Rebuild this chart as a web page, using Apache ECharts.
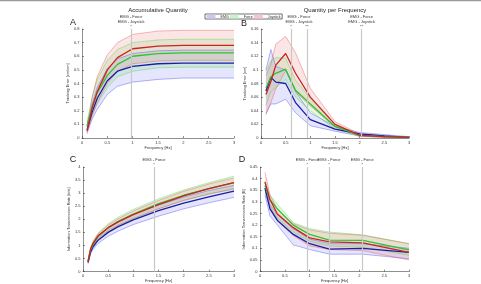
<!DOCTYPE html>
<html>
<head>
<meta charset="utf-8">
<script src="https://cdn.jsdelivr.net/npm/echarts@6/dist/echarts.min.js"></script>
<style>
    html,body{margin:0;padding:0;background:#fff;}
    #chart{width:481px;height:284px;}
</style>
</head>
<body>
<div id="chart"></div>
<script>
    // frequencies [Hz]
    var freqA = [0.1, 0.2, 0.3, 0.5, 0.7, 1.0, 1.5, 2.0, 2.5, 3.0];
    var freqB = [0.1, 0.2, 0.3, 0.5, 0.7, 1.0, 1.5, 2.0, 2.5, 3.0];
    var freqC = [0.1, 0.15, 0.2, 0.3, 0.5, 0.7, 1.0, 1.5, 2.0, 2.5, 3.0];
    var freqD = [0.1, 0.2, 0.35, 0.67, 1.0, 1.4, 2.07, 3.0];

    // A - accumulative tracking error
    var aEmgMean = [0.06, 0.19, 0.29, 0.42, 0.49, 0.525, 0.545, 0.55, 0.55, 0.55];
    var aEmgUp   = [0.09, 0.25, 0.37, 0.51, 0.58, 0.62, 0.64, 0.645, 0.645, 0.645];
    var aEmgLo   = [0.04, 0.14, 0.21, 0.32, 0.38, 0.41, 0.43, 0.44, 0.44, 0.44];
    var aForceMean = [0.09, 0.23, 0.33, 0.46, 0.54, 0.60, 0.62, 0.625, 0.625, 0.625];
    var aForceUp   = [0.12, 0.30, 0.43, 0.57, 0.65, 0.70, 0.72, 0.725, 0.725, 0.725];
    var aForceLo   = [0.07, 0.17, 0.25, 0.37, 0.45, 0.49, 0.515, 0.52, 0.52, 0.52];
    var aJoyMean = [0.05, 0.22, 0.34, 0.50, 0.59, 0.655, 0.675, 0.68, 0.68, 0.68];
    var aJoyUp   = [0.08, 0.30, 0.45, 0.61, 0.70, 0.76, 0.785, 0.79, 0.79, 0.79];
    var aJoyLo   = [0.03, 0.16, 0.26, 0.40, 0.49, 0.545, 0.565, 0.57, 0.57, 0.57];

    // B - tracking error per frequency
    var bEmgMean = [0.069, 0.089, 0.082, 0.080, 0.052, 0.027, 0.013, 0.006, 0.003, 0.001];
    var bEmgUp   = [0.100, 0.130, 0.105, 0.100, 0.068, 0.037, 0.017, 0.008, 0.005, 0.002];
    var bEmgLo   = [0.036, 0.050, 0.050, 0.057, 0.037, 0.018, 0.010, 0.003, 0.001, 0.000];
    var bForceMean = [0.073, 0.090, 0.095, 0.101, 0.070, 0.050, 0.017, 0.004, 0.002, 0.001];
    var bForceUp   = [0.098, 0.113, 0.118, 0.117, 0.085, 0.058, 0.020, 0.005, 0.003, 0.001];
    var bForceLo   = [0.048, 0.068, 0.074, 0.086, 0.060, 0.040, 0.013, 0.003, 0.001, 0.000];
    var bJoyMean = [0.064, 0.083, 0.107, 0.124, 0.095, 0.060, 0.020, 0.004, 0.002, 0.001];
    var bJoyUp   = [0.092, 0.108, 0.138, 0.149, 0.125, 0.073, 0.024, 0.006, 0.003, 0.001];
    var bJoyLo   = [0.034, 0.052, 0.072, 0.099, 0.068, 0.047, 0.016, 0.002, 0.001, 0.000];

    // C - accumulative information transmission rate
    var cEmgMean = [0.35, 0.75, 0.95, 1.20, 1.50, 1.72, 1.98, 2.33, 2.62, 2.86, 3.08];
    var cEmgUp   = [0.40, 0.83, 1.05, 1.33, 1.68, 1.92, 2.20, 2.55, 2.85, 3.10, 3.30];
    var cEmgLo   = [0.30, 0.67, 0.85, 1.08, 1.35, 1.55, 1.80, 2.12, 2.40, 2.63, 2.84];
    var cForceMean = [0.40, 0.83, 1.05, 1.35, 1.68, 1.92, 2.20, 2.60, 2.92, 3.17, 3.40];
    var cForceUp   = [0.45, 0.92, 1.15, 1.47, 1.83, 2.08, 2.38, 2.78, 3.12, 3.40, 3.65];
    var cForceLo   = [0.35, 0.75, 0.95, 1.22, 1.53, 1.76, 2.02, 2.40, 2.72, 2.96, 3.18];
    var cJoyMean = [0.38, 0.85, 1.08, 1.37, 1.68, 1.90, 2.18, 2.56, 2.90, 3.17, 3.40];
    var cJoyUp   = [0.42, 0.92, 1.15, 1.45, 1.78, 2.02, 2.32, 2.72, 3.07, 3.35, 3.58];
    var cJoyLo   = [0.34, 0.79, 1.00, 1.28, 1.57, 1.78, 2.03, 2.40, 2.72, 2.97, 3.15];

    // D - information transmission rate per frequency
    var dEmgMean = [0.36, 0.27, 0.22, 0.16, 0.12, 0.097, 0.10, 0.083];
    var dEmgUp   = [0.385, 0.29, 0.245, 0.185, 0.14, 0.12, 0.12, 0.10];
    var dEmgLo   = [0.33, 0.24, 0.20, 0.115, 0.095, 0.075, 0.075, 0.055];
    var dForceMean = [0.37, 0.31, 0.27, 0.20, 0.16, 0.135, 0.134, 0.093];
    var dForceUp   = [0.39, 0.33, 0.29, 0.21, 0.185, 0.17, 0.158, 0.12];
    var dForceLo   = [0.34, 0.28, 0.23, 0.17, 0.13, 0.11, 0.105, 0.07];
    var dJoyMean = [0.385, 0.31, 0.248, 0.189, 0.145, 0.128, 0.124, 0.083];
    var dJoyUp   = [0.427, 0.33, 0.268, 0.206, 0.179, 0.165, 0.156, 0.12];
    var dJoyLo   = [0.35, 0.28, 0.22, 0.155, 0.11, 0.095, 0.09, 0.05];

    // significance markers
    var sigA = [[0.97, '*']];
    var sigB = [[0.61, '*'], [0.93, '**'], [2.04, '**']];
    var sigC = [[1.41, '*']];
    var sigD = [[0.95, '*'], [1.39, '*'], [2.06, '*']];
    var noteA = [[0.97, 'EMG - Force\nEMG - Joystick']];
    var noteB = [[0.77, 'EMG - Force\nEMG - Joystick'], [2.04, 'EMG - Force\nEMG - Joystick']];
    var noteC = [[1.41, 'EMG - Force']];
    var noteD = [[0.95, 'EMG - Force'], [1.39, 'EMG - Force'], [2.06, 'EMG - Force']];

    var yMax = [0.8, 0.16, 4, 0.45];
    var yStep = [0.1, 0.02, 0.5, 0.05];
    var yNames = ['Tracking Error [cm/cm]', 'Tracking Error [cm]', 'Information Transmission Rate [bits]', 'Information Transmission Rate [B]'];

    var groups = {
        EMG:      {mean: '#1c1ca6', edge: 'rgba(80,80,230,0.7)',  fill: 'rgba(110,110,245,0.18)', legend: '#c9c9f4'},
        Force:    {mean: '#2fc42f', edge: 'rgba(80,215,80,0.7)',  fill: 'rgba(90,225,90,0.16)',  legend: '#c8f2c8'},
        Joystick: {mean: '#cc2222', edge: 'rgba(225,90,90,0.7)',  fill: 'rgba(240,110,110,0.18)', legend: '#f6c6cc'}
    };
    var font = 'Liberation Sans';
    var txt = '#333';

    function zip(xs, ys){
        return xs.map(function(x, i){ return [x, ys[i]]; });
    }

    // shaded band between lower and upper bound, drawn once through the axis scales
    function bandSeries(name, p, f, lo, up){
        var c = groups[name];
        return {
            name: name, type: 'custom', xAxisIndex: p, yAxisIndex: p, z: 2, silent: true,
            data: f.map(function(x, i){ return [x, lo[i], up[i]]; }),
            renderItem: function(params, api){
                if (params.dataIndex !== 0) return null;
                var top = f.map(function(x, i){ return api.coord([x, up[i]]); });
                var bot = f.map(function(x, i){ return api.coord([x, lo[i]]); }).reverse();
                return {type: 'polygon', shape: {points: top.concat(bot)}, style: {fill: c.fill}};
            },
            itemStyle: {color: c.legend}
        };
    }

    function lineSeries(name, p, f, vals, width, color, z){
        return {
            name: name, type: 'line', xAxisIndex: p, yAxisIndex: p,
            data: zip(f, vals), symbol: 'none', z: z, silent: true,
            lineStyle: {width: width, color: color}
        };
    }

    // gray significance lines + labels, hung on an empty helper series
    function markSeries(p, sig, notes){
        return {
            name: 'marks' + p, type: 'line', xAxisIndex: p, yAxisIndex: p, data: [], z: 1,
            markLine: {
                silent: true, symbol: 'none', animation: false,
                lineStyle: {color: '#c8c8c8', width: 1.2, type: 'solid'},
                label: {position: 'end', fontSize: 4, color: txt, distance: 0.5, fontFamily: font},
                data: sig.map(function(s){ return {xAxis: s[0], label: {formatter: s[1]}}; })
            },
            markPoint: {
                symbol: 'circle', symbolSize: 0, silent: true, animation: false,
                data: notes.map(function(n){
                    return {coord: [n[0], yMax[p]], label: {show: true, position: 'top', distance: 5,
                        formatter: n[1], fontSize: 4, lineHeight: 4.6, color: txt, fontFamily: font}};
                })
            }
        };
    }

    function panel(p, f, d){
        var names = ['EMG', 'Force', 'Joystick'];
        var out = [];
        names.forEach(function(n, k){ out.push(bandSeries(n, p, f, d[k][2], d[k][1])); });
        names.forEach(function(n, k){
            out.push(lineSeries(n + ' up', p, f, d[k][1], 0.6, groups[n].edge, 3));
            out.push(lineSeries(n + ' lo', p, f, d[k][2], 0.6, groups[n].edge, 3));
        });
        names.forEach(function(n, k){ out.push(lineSeries(n + ' mean', p, f, d[k][0], 1.3, groups[n].mean, 4)); });
        return out;
    }

    var grids = [
        {left: 82, top: 29, width: 152, height: 109},
        {left: 261, top: 29, width: 148, height: 109},
        {left: 83, top: 167, width: 151, height: 108},
        {left: 260, top: 167, width: 149, height: 108}
    ];

    var axisLine = {lineStyle: {color: '#444', width: 0.6}};
    var tickStyle = {color: '#444', width: 0.6};

    var xAxes = grids.map(function(g, i){
        return {
            type: 'value', gridIndex: i, min: 0, max: 3, interval: 0.5,
            name: 'Frequency [Hz]', nameLocation: 'middle', nameGap: 7,
            nameTextStyle: {fontSize: 4, color: txt, fontFamily: font},
            axisLine: axisLine, axisTick: {inside: true, length: 2, lineStyle: tickStyle}, splitLine: {show: false},
            axisLabel: {fontSize: 4, color: txt, margin: 2.5, fontFamily: font}
        };
    });
    var yAxes = grids.map(function(g, i){
        return {
            type: 'value', gridIndex: i, min: 0, max: yMax[i], interval: yStep[i],
            name: yNames[i], nameLocation: 'middle', nameGap: 10,
            nameTextStyle: {fontSize: 4, color: txt, fontFamily: font},
            axisLine: {show: true, lineStyle: axisLine.lineStyle},
            axisTick: {show: true, inside: true, length: 2, lineStyle: tickStyle},
            splitLine: {show: false},
            axisLabel: {fontSize: 4, color: txt, margin: 2.5, fontFamily: font}
        };
    });

    var series = [].concat(
        [markSeries(0, sigA, noteA), markSeries(1, sigB, noteB), markSeries(2, sigC, noteC), markSeries(3, sigD, noteD)],
        panel(0, freqA, [[aEmgMean, aEmgUp, aEmgLo], [aForceMean, aForceUp, aForceLo], [aJoyMean, aJoyUp, aJoyLo]]),
        panel(1, freqB, [[bEmgMean, bEmgUp, bEmgLo], [bForceMean, bForceUp, bForceLo], [bJoyMean, bJoyUp, bJoyLo]]),
        panel(2, freqC, [[cEmgMean, cEmgUp, cEmgLo], [cForceMean, cForceUp, cForceLo], [cJoyMean, cJoyUp, cJoyLo]]),
        panel(3, freqD, [[dEmgMean, dEmgUp, dEmgLo], [dForceMean, dForceUp, dForceLo], [dJoyMean, dJoyUp, dJoyLo]])
    );

    function label(text, x, y, size){
        return {type: 'text', x: x, y: y, silent: true,
            style: {text: text, fontSize: size, fill: '#222', fontFamily: font, align: 'center', verticalAlign: 'middle'}};
    }

    var option = {
        animation: false,
        backgroundColor: '#fff',
        textStyle: {fontFamily: font},
        grid: grids,
        xAxis: xAxes,
        yAxis: yAxes,
        legend: {
            left: 205, top: 14, itemWidth: 9, itemHeight: 4, itemGap: 1,
            padding: [0.5, 1.5], borderColor: '#333', borderWidth: 0.7, selectedMode: false,
            textStyle: {fontSize: 3.6, color: txt, fontFamily: font},
            data: Object.keys(groups).map(function(k){
                return {name: k, icon: 'rect', itemStyle: {color: groups[k].legend, borderWidth: 0}};
            })
        },
        graphic: [
            {type: 'rect', shape: {x: 0, y: 0, width: 481, height: 1.2}, style: {fill: '#9a9a9a'}, silent: true},
            label('Accumulative Quantity', 158, 10, 6),
            label('Quantity per Frequency', 335, 10, 6),
            label('A', 73, 23, 9),
            label('B', 244, 24, 9),
            label('C', 73, 160, 9),
            label('D', 242, 160, 9)
        ],
        series: series
    };

    echarts.init(document.getElementById('chart')).setOption(option);
</script>
</body>
</html>
